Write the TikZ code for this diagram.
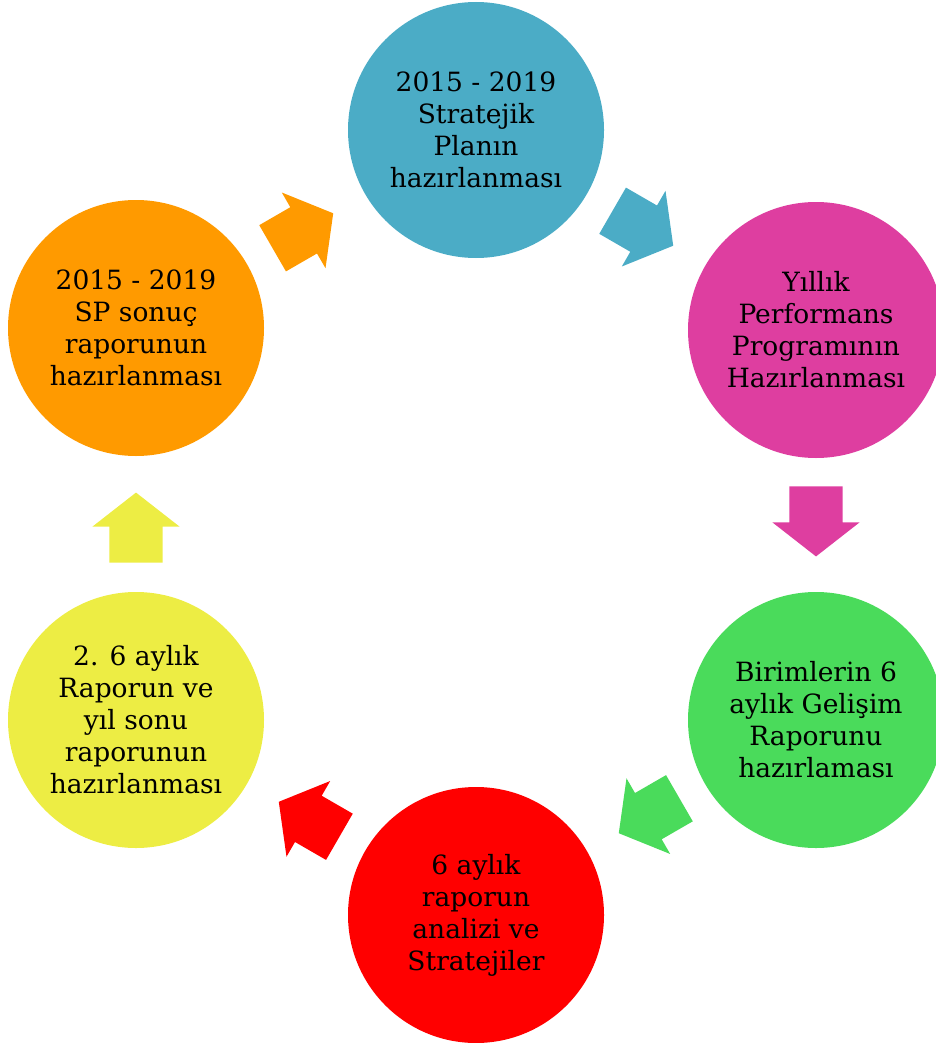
\documentclass[tikz,border=0pt]{standalone}
\usepackage{fontspec}
\setmainfont{DejaVu Serif}
\usetikzlibrary{shapes.arrows,calc}

\definecolor{cAqua}{RGB}{75,172,198}
\definecolor{cPink}{RGB}{222,62,160}
\definecolor{cGreen}{RGB}{74,219,91}
\definecolor{cRed}{RGB}{255,0,0}
\definecolor{cYellow}{RGB}{237,237,68}
\definecolor{cOrange}{RGB}{255,154,0}

\begin{document}
\begin{tikzpicture}[
    x=1pt,y=-1pt,
    Stage/.style={circle,minimum size=256pt,inner sep=0pt,align=center,
      font=\fontsize{26.5}{32}\selectfont},
    Flow/.style={single arrow,minimum height=70pt,inner xsep=0pt,inner ysep=26.5pt,
      single arrow head extend=17pt,single arrow head indent=0pt,
      single arrow tip angle=104},
    ]

    \clip (0,0) rectangle (936,1043);

    \node[Stage,fill=cAqua]   at (476,130) (SP) {2015 - 2019\\Stratejik\\Planın\\hazırlanması};
    \node[Stage,fill=cPink]   at (816,330) (PP) {Yıllık\\Performans\\Programının\\Hazırlanması};
    \node[Stage,fill=cGreen]  at (816,720) (GR) {Birimlerin 6\\aylık Gelişim\\Raporunu\\hazırlaması};
    \node[Stage,fill=cRed]    at (476,915) (AN) {6 aylık\\raporun\\analizi ve\\Stratejiler};
    \node[Stage,fill=cYellow] at (136,720) (YR) {2. 6 aylık\\Raporun ve\\yıl sonu\\raporunun\\hazırlanması};
    \node[Stage,fill=cOrange] at (136,328) (SR) {2015 - 2019\\SP sonuç\\raporunun\\hazırlanması};

    \node[Flow,fill=cAqua,rotate=-30,xshift=-14pt]   at ($(SP)!0.5!(PP)$) (F1) {};
    \node[Flow,fill=cPink,rotate=-90,xshift=-14pt]   at ($(PP)!0.5!(GR)$) (F2) {};
    \node[Flow,fill=cGreen,rotate=210,xshift=-14pt]  at ($(GR)!0.5!(AN)$) (F3) {};
    \node[Flow,fill=cRed,rotate=150,xshift=-14pt]    at ($(AN)!0.5!(YR)$) (F4) {};
    \node[Flow,fill=cYellow,rotate=90,xshift=-14pt]  at ($(YR)!0.5!(SR)$) (F5) {};
    \node[Flow,fill=cOrange,rotate=30,xshift=-14pt]  at ($(SR)!0.5!(SP)$) (F6) {};
  \end{tikzpicture}
\end{document}
